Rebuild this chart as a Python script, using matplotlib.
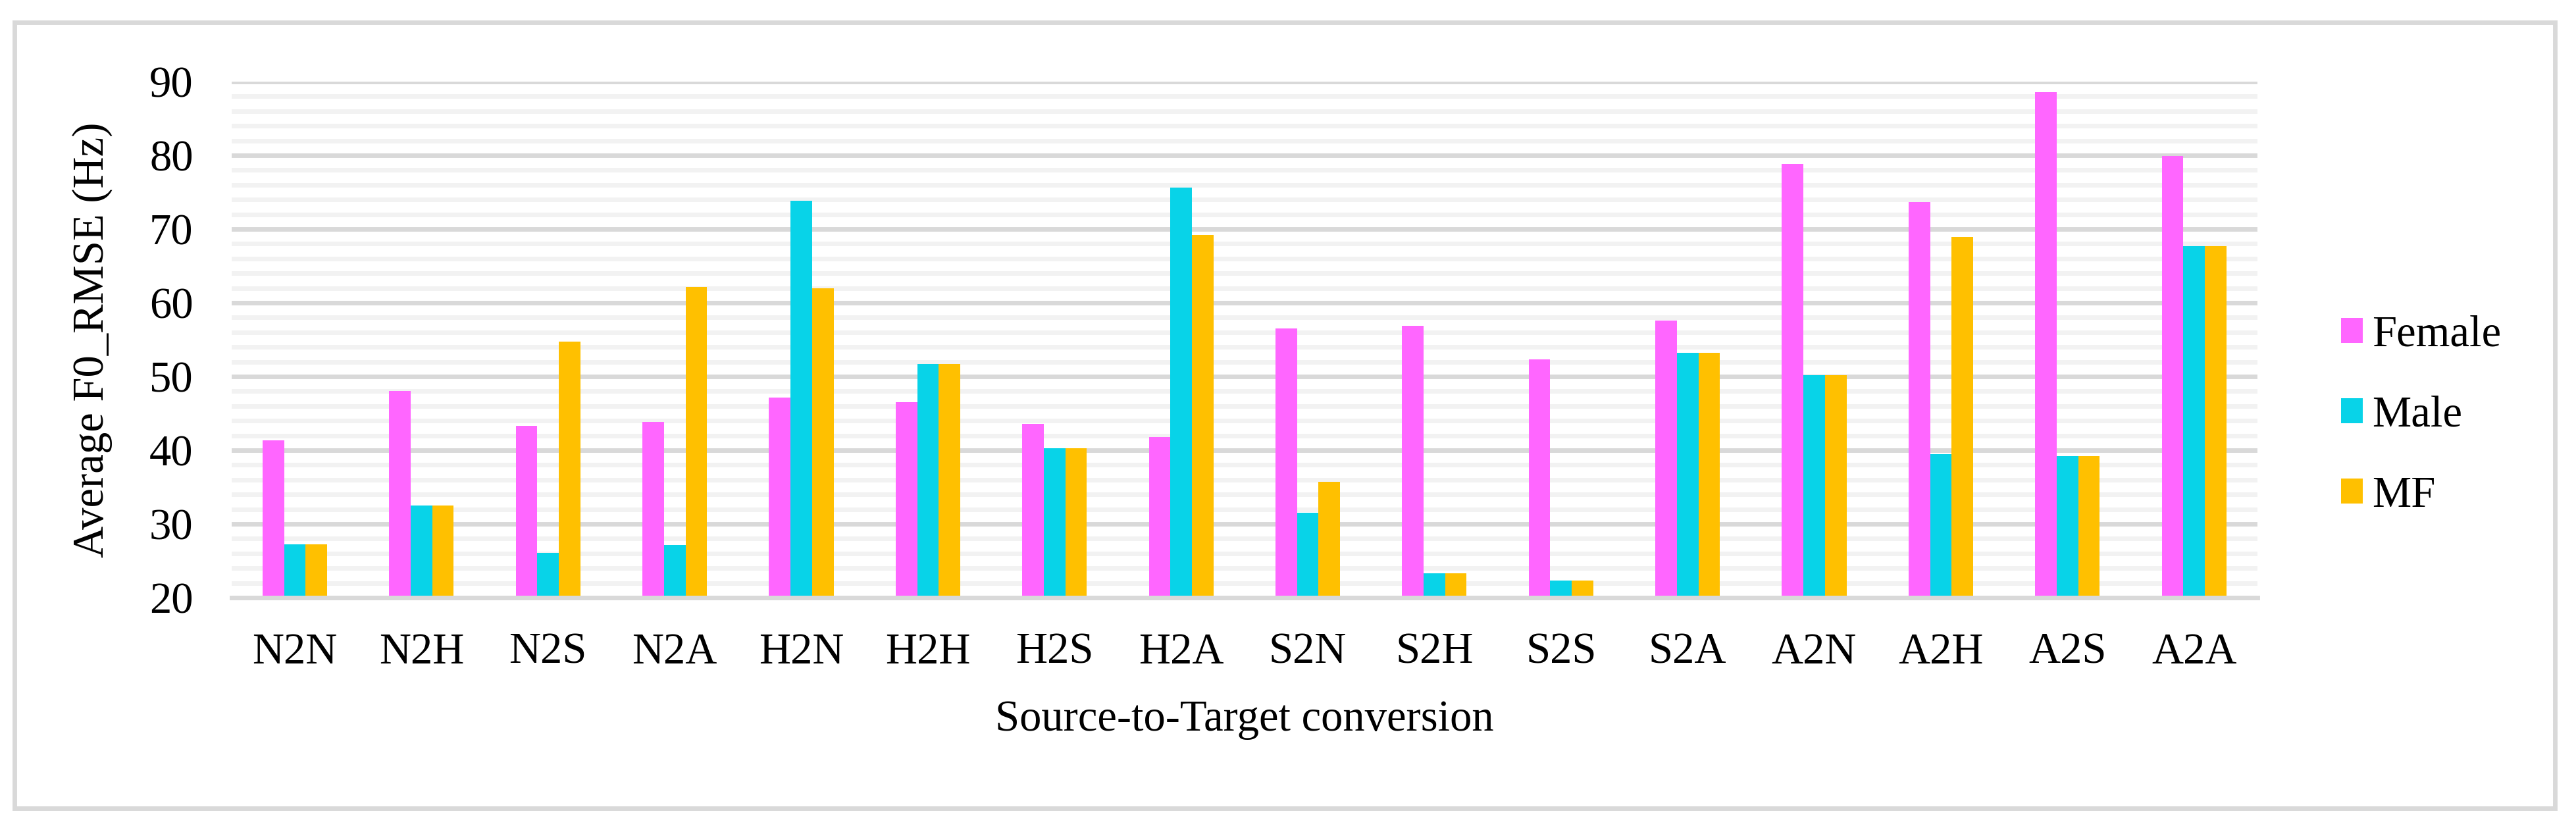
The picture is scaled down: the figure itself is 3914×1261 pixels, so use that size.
import matplotlib
matplotlib.use('Agg')
import matplotlib.pyplot as plt
from matplotlib.patches import Rectangle
from matplotlib.ticker import MultipleLocator
import numpy as np

plt.rcParams['font.family'] = ['Liberation Serif', 'DejaVu Serif']

# Source-to-target conversions
categories = ['N2N', 'N2H', 'N2S', 'N2A', 'H2N', 'H2H', 'H2S', 'H2A',
              'S2N', 'S2H', 'S2S', 'S2A', 'A2N', 'A2H', 'A2S', 'A2A']

# Average F0 RMSE (Hz) per series
female = [41.3, 48.0, 43.3, 43.8, 47.1, 46.5, 43.6, 41.8,
          56.5, 56.9, 52.3, 57.6, 78.8, 73.7, 88.6, 79.9]
male = [27.2, 32.5, 26.1, 27.1, 73.8, 51.7, 40.3, 75.6,
        31.5, 23.3, 22.3, 53.2, 50.2, 39.5, 39.2, 67.7]
mf = [27.2, 32.5, 54.7, 62.1, 62.0, 51.7, 40.3, 69.2,
      35.7, 23.3, 22.3, 53.2, 50.2, 68.9, 39.2, 67.7]

series = [('Female', female, '#FF66FF'),
          ('Male', male, '#08D3E8'),
          ('MF', mf, '#FFC000')]

fs = 48
fig = plt.figure(figsize=(39.14, 12.61), dpi=100)
ax = fig.add_axes([0.0899, 0.280, 0.7864, 0.6217])

x = np.arange(len(categories))
width = 0.17
base = 20
for i, (name, vals, col) in enumerate(series):
    heights = np.array(vals) - base
    ax.bar(x + (i - 1) * width, heights, width=width, bottom=base,
           color=col, label=name, zorder=2)

ax.set_xlim(-0.5, len(categories) - 0.5)
ax.set_ylim(20, 90)
ax.yaxis.set_major_locator(MultipleLocator(10))
ax.yaxis.set_minor_locator(MultipleLocator(2))
ax.grid(axis='y', which='minor', color='#F2F2F2', linewidth=5)
ax.grid(axis='y', which='major', color='#D9D9D9', linewidth=5)
ax.set_axisbelow(True)
ax.axhline(20, color='#D9D9D9', linewidth=5, zorder=3, clip_on=False)

for s in ax.spines.values():
    s.set_visible(False)

ax.set_xticks(x)
ax.set_xticklabels(categories)
ax.tick_params(axis='both', which='both', length=0, labelsize=fs)
ax.tick_params(axis='y', pad=42)
ax.tick_params(axis='x', pad=38)

ax.set_xlabel('Source-to-Target conversion', fontsize=fs, labelpad=30)
ax.set_ylabel('Average F0_RMSE (Hz)', fontsize=fs, labelpad=40)

fig.legend(loc='center left', bbox_to_anchor=(0.9088, 0.4996), frameon=False,
           fontsize=fs, handlelength=0.5, handleheight=0.5, handletextpad=0.2,
           labelspacing=0.92, borderpad=0, borderaxespad=0)

fig.add_artist(Rectangle((0.0056, 0.026), 0.9862, 0.947, transform=fig.transFigure,
                         fill=False, edgecolor='#D9D9D9', linewidth=5))

fig.savefig('out.png', dpi=100)
